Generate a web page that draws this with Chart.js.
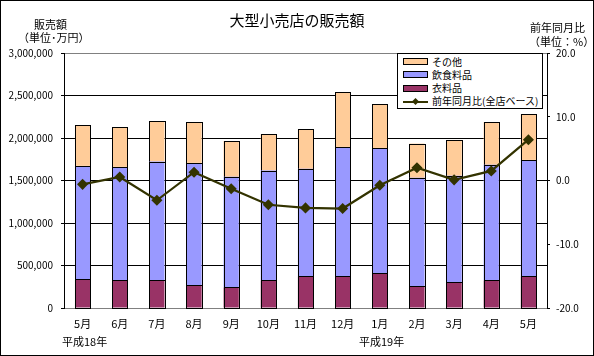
<!DOCTYPE html>
<html><head><meta charset="utf-8">
<script src="https://cdn.jsdelivr.net/npm/chart.js@4/dist/chart.umd.min.js"></script>
<style>
html,body{margin:0;padding:0;background:#fff;}
#wrap{position:relative;width:594px;height:356px;font-family:"Noto Sans CJK JP","Noto Sans",sans-serif;color:#000;}
#frame{position:absolute;left:0;top:0;width:594px;height:356px;box-sizing:border-box;border:1px solid #000;pointer-events:none;}
.t{position:absolute;white-space:nowrap;line-height:1;}
#legend{position:absolute;left:397px;top:53px;width:146px;height:56px;box-sizing:border-box;border:1px solid #000;background:#fff;font-size:10px;}
.li{position:absolute;left:5px;height:13px;display:flex;align-items:center;white-space:nowrap;line-height:1;}
.sw{width:23px;height:5px;border:1px solid #000;margin-right:4px;flex:none;}
.ln{position:relative;width:25px;height:13px;margin-right:4px;flex:none;}
</style></head>
<body>
<div id="wrap">
<canvas id="c" width="594" height="356"></canvas>
<div class="t" style="left:0;width:594px;text-align:center;top:12px;font-size:15px;">大型小売店の販売額</div>
<div class="t" style="left:34px;top:19px;font-size:11px;">販売額</div>
<div class="t" style="left:18px;top:32px;font-size:11px;">（単位･万円）</div>
<div class="t" style="left:530px;top:22px;font-size:11px;">前年同月比</div>
<div class="t" style="left:529px;top:36px;font-size:11px;">（単位：%）</div>
<div class="t" style="left:62px;top:336px;font-size:11px;">平成18年</div>
<div class="t" style="left:359px;top:336px;font-size:11px;">平成19年</div>
<div id="legend"></div>
<div id="frame"></div>
</div>
<script>
const categories = ["5月","6月","7月","8月","9月","10月","11月","12月","1月","2月","3月","4月","5月"];
const clothing = [336000,324000,324000,266000,242000,324000,371000,371000,410000,254000,305000,324000,371000];
const food = [1336000,1336000,1399000,1441000,1301000,1293000,1266000,1524000,1473000,1277000,1250000,1360000,1371000];
const other = [480000,469000,476000,481000,422000,430000,468000,644000,515000,403000,422000,504000,539000];
const yoy = [-0.6,0.55,-3.1,1.3,-1.3,-3.8,-4.3,-4.4,-0.75,2.0,0.1,1.5,6.4];
const leftTicks = [0,500000,1000000,1500000,2000000,2500000,3000000];
const rightTicks = [-20,-10,0,10,20];

const names = {other:"その他", food:"飲食料品", clothing:"衣料品", yoy:"前年同月比(全店ベース)"};
const colors = {other:"#FFCC99", food:"#9999FF", clothing:"#993366", yoy:"#333300"};
const font = {family:'"Noto Sans CJK JP","Noto Sans",sans-serif', size:10};

const barCommon = {type:'bar', yAxisID:'y', stack:'s', order:1, borderWidth:0, inflateAmount:0, barPercentage:0.41, categoryPercentage:1};

// crisp black outlines for bar segments, drawn from the library's element geometry
const crispOutline = {
  id:'crispOutline',
  afterDatasetDraw(chart, args){
    const meta = args.meta;
    if (meta.type !== 'bar') return;
    const ctx = chart.ctx;
    ctx.save();
    ctx.strokeStyle = '#000';
    ctx.lineWidth = 1;
    meta.data.forEach(el=>{
      const p = el.getProps(['x','y','base','width'], true);
      const L = Math.round(p.x - p.width/2), R = Math.round(p.x + p.width/2);
      const T = Math.round(Math.min(p.y,p.base)), B = Math.round(Math.max(p.y,p.base));
      ctx.strokeRect(L+0.5, T+0.5, R-L, B-T);
    });
    ctx.restore();
  }
};

new Chart(document.getElementById('c'), {
  data: {
    labels: categories,
    datasets: [
      {...barCommon, label:names.clothing, data:clothing, backgroundColor:colors.clothing},
      {...barCommon, label:names.food, data:food, backgroundColor:colors.food},
      {...barCommon, label:names.other, data:other, backgroundColor:colors.other},
      {type:'line', label:names.yoy, data:yoy, yAxisID:'y1', order:0, borderColor:colors.yoy, borderWidth:2.2, pointStyle:'rectRot', pointRadius:4, pointBackgroundColor:colors.yoy, pointBorderColor:colors.yoy, tension:0}
    ]
  },
  plugins:[crispOutline],
  options: {
    responsive:false, animation:false,
    layout:{padding:{top:53, left:0, right:0, bottom:0}},
    plugins:{legend:{display:false}, tooltip:{enabled:false}, title:{display:false}},
    scales:{
      x:{
        stacked:true,
        grid:{display:true, drawOnChartArea:false, drawTicks:false},
        border:{display:true, color:'#808080', width:1},
        ticks:{font:{...font, size:11}, color:'#000', padding:9, maxRotation:0},
        afterFit:s=>{s.height=48;}
      },
      y:{
        position:'left', stacked:true, min:0, max:3000000,
        afterBuildTicks:s=>{s.ticks=leftTicks.map(v=>({value:v}));},
        ticks:{font:font, color:'#000', padding:8, callback:v=>v.toLocaleString('en-US')},
        grid:{color:c=>(c.tick && (c.tick.value===3000000||c.tick.value===0))?'#808080':'#000', lineWidth:1, tickLength:3, tickColor:'#000'},
        border:{display:true, color:'#000', width:1},
        afterFit:s=>{s.width=64;}
      },
      y1:{
        position:'right', min:-20, max:20,
        afterBuildTicks:s=>{s.ticks=rightTicks.map(v=>({value:v}));},
        ticks:{font:font, color:'#000', padding:6, callback:v=>Number(v).toFixed(1)},
        grid:{drawOnChartArea:false, drawTicks:true, tickLength:3, color:'#000'},
        border:{display:true, color:'#000', width:1},
        afterFit:s=>{s.width=47;}
      }
    }
  }
});

// legend (HTML)
const lg = document.getElementById('legend');
const items = [['other','bar'],['food','bar'],['clothing','bar'],['yoy','line']];
items.forEach((it,i)=>{
  const d = document.createElement('div');
  d.className='li'; d.style.top=(1+i*13.3)+'px';
  if(it[1]==='bar'){
    const s=document.createElement('div'); s.className='sw'; s.style.background=colors[it[0]]; d.appendChild(s);
  } else {
    const s=document.createElement('div'); s.className='ln';
    s.innerHTML='<div style="position:absolute;left:0;top:6px;width:25px;height:2px;background:'+colors.yoy+'"></div><div style="position:absolute;left:10px;top:4px;width:5px;height:5px;background:'+colors.yoy+';transform:rotate(45deg)"></div>';
    d.appendChild(s);
  }
  const t=document.createElement('span'); t.textContent=names[it[0]]; d.appendChild(t);
  lg.appendChild(d);
});
</script>
</body></html>
